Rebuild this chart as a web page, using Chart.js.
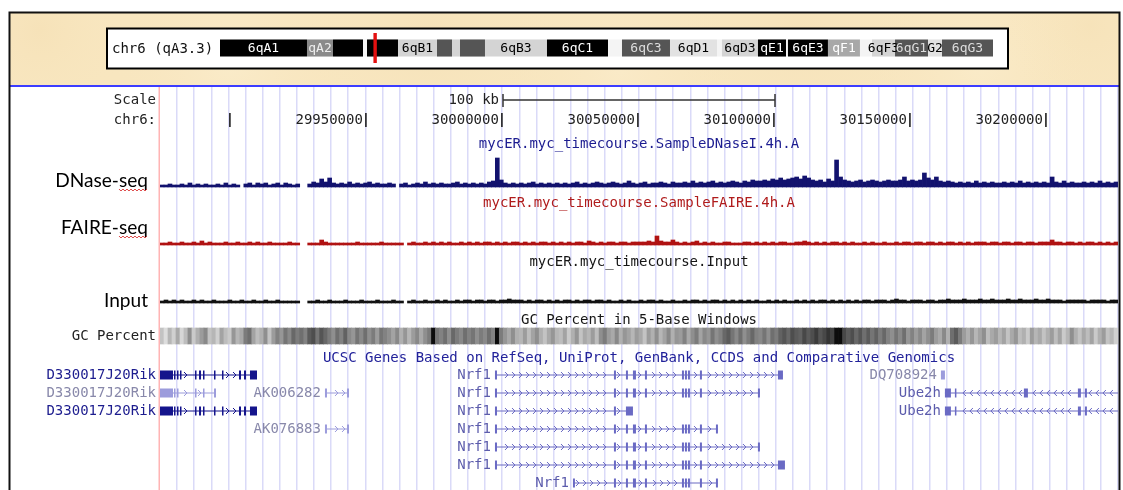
<!DOCTYPE html>
<html>
<head>
<meta charset="utf-8">
<script src="https://cdn.jsdelivr.net/npm/chart.js@4.4.1/dist/chart.umd.min.js"></script>
<style>
  html, body { margin: 0; padding: 0; background: #fff; }
  #wrap { position: relative; width: 1123px; height: 490px; overflow: hidden; }
  #browser { position: absolute; left: 0; top: 0; }
  #ideo { position: absolute; left: 220px; top: 33px; pointer-events: none; }
</style>
</head>
<body>
<div id="wrap">
  <canvas id="browser" width="1123" height="490"></canvas>
  <canvas id="ideo" width="773" height="30"></canvas>
</div>
<script>
// ---- view window (mouse chr6) ----
const chromName = 'chr6';
const chromBandHere = 'qA3.3';
const chromLenMb = 149.74;
const viewStart = 29874300;
const viewEnd = 30226500;
const rulerTicks = [29900000, 29950000, 30000000, 30050000, 30100000, 30150000, 30200000];
const scaleBarBp = 100000;

// ---- signal tracks, one value per window of (viewEnd - viewStart) / 240 bp; null = no data ----
const dnaseSignal = [
  2,2,3,2,2,3,2,4,2,3,  2,3,2,2,3,2,4,2,3,2,  null,3,4,2,4,3,4,2,3,4,  2,4,3,2,3,null,null,3,5,4,
  8,5,9,4,3,4,3,5,3,4,  3,4,5,3,4,3,3,4,3,null,  3,4,2,3,4,3,5,3,4,3,  4,3,3,4,5,3,4,3,4,3,
  4,3,5,6,29,7,4,3,4,3,  4,3,4,5,3,4,3,4,3,4,  3,4,3,4,5,3,4,3,4,5,  4,3,4,5,4,3,4,6,4,3,
  4,5,3,4,4,5,4,3,5,4,  4,5,4,6,4,5,4,5,6,4,  5,4,5,6,5,4,6,5,7,6,  6,7,6,8,7,9,7,8,9,10,
  8,11,9,7,6,7,5,8,6,27,  10,7,6,5,6,7,5,6,7,6,  5,6,7,6,6,7,10,6,7,6,  7,14,9,7,10,6,5,6,5,4,
  5,4,5,4,6,4,5,4,5,4,  4,5,4,5,4,6,4,5,4,5,  4,5,4,10,5,4,6,4,5,4,  4,5,4,5,4,6,4,5,4,5
];
const faireSignal = [
  2,2,3,2,2,3,2,2,3,2,  4,2,3,2,2,2,3,2,2,3,  2,2,3,2,3,2,2,3,2,2,  2,2,3,2,2,null,null,2,2,2,
  5,3,2,2,2,2,2,2,2,3,  2,2,2,2,2,3,2,2,2,2,  2,null,2,3,2,2,3,2,3,2,  3,2,3,2,2,3,2,3,2,3,
  2,3,3,2,3,2,3,2,3,3,  2,3,2,3,2,3,3,2,3,2,  3,2,3,2,3,3,2,4,3,2,  3,2,3,3,2,3,3,2,3,3,
  3,3,4,3,9,4,3,3,5,3,  2,3,2,3,4,2,3,2,3,2,  2,3,3,2,2,2,3,3,2,3,  2,3,2,3,2,3,3,2,2,3,
  3,4,3,2,3,2,3,2,3,3,  2,3,2,3,2,2,3,2,3,2,  2,3,2,2,3,2,3,3,2,3,  3,2,3,3,2,3,2,3,3,2,
  3,2,3,2,3,3,3,2,3,3,  2,3,3,2,3,3,2,3,3,2,  3,3,3,5,3,3,2,3,3,2,  3,2,3,3,2,3,2,3,2,3
];
const inputSignal = [
  2,3,2,3,2,3,2,2,3,2,  3,2,2,3,2,2,2,3,2,2,  3,2,2,3,2,2,3,2,2,3,  2,2,2,2,2,null,null,2,2,3,
  2,2,3,2,2,2,3,2,2,2,  3,2,2,2,3,2,2,2,3,2,  2,null,2,3,2,2,3,2,2,3,  2,3,2,2,3,2,3,3,2,3,
  3,2,3,3,2,3,3,4,3,3,  3,2,3,2,3,3,2,3,2,3,  2,3,3,2,3,2,3,3,2,3,  3,2,3,2,2,3,2,3,2,2,
  3,2,3,3,2,3,2,2,3,2,  2,3,2,3,3,2,3,2,3,3,  2,3,2,3,2,3,2,3,2,3,  2,2,3,2,3,2,3,2,2,3,
  2,3,2,3,2,3,3,2,3,2,  3,2,3,2,3,2,3,3,2,3,  3,3,2,3,4,3,3,2,3,3,  3,2,3,3,2,3,3,4,3,3,
  3,4,3,3,3,4,3,3,4,3,  3,3,4,3,3,4,3,3,3,4,  3,3,4,3,3,3,2,3,3,3,  3,3,2,3,3,3,3,2,3,3
];
const gcPercent = [
  44,40,46,42,48,41,45,52,43,47,  50,53,44,46,42,49,45,43,51,46,  48,55,57,49,45,47,52,44,50,54,  51,56,53,58,55,57,54,60,62,56,
  61,58,55,52,57,54,59,53,51,56,  53,57,52,55,50,56,54,52,49,53,  47,51,46,50,53,48,52,55,72,56,  54,57,52,58,55,53,57,54,56,52,
  55,53,57,54,75,55,51,48,52,47,  46,50,45,49,52,47,44,48,51,46,  45,49,43,47,51,44,48,46,50,45,  52,55,50,48,53,47,51,49,46,50,
  48,44,50,47,52,46,49,53,47,51,  50,54,48,52,55,49,53,51,56,52,  54,58,60,56,53,57,52,55,58,54,  53,56,52,57,55,59,61,58,62,60,
  59,63,60,62,65,61,63,66,64,72,  75,63,60,62,58,61,57,60,56,59,  55,58,54,52,56,53,57,51,54,50,  53,49,52,55,50,48,53,47,57,60,
  55,50,47,51,46,49,52,45,48,50,  46,49,44,48,51,45,47,43,50,46,  48,44,47,50,45,49,43,46,52,47,  44,48,45,49,43,47,50,44,46,42
];

// ---- chr6 cytobands (Mb) ----
const bandNames  = ['6qA1','6qA2','6qA3.1','6qA3.2','6qA3.3','6qB1','6qB2.1','6qB2.2','6qB2.3','6qB3','6qC1','6qC2','6qC3',
                    '6qD1','6qD2','6qD3','6qE1','6qE2','6qE3','6qF1','6qF2','6qF3','6qG1','6qG2','6qG3'];
const bandLabels = ['6qA1','qA2','','','','6qB1','','','','6qB3','6qC1','','6qC3',
                    '6qD1','','6qD3','qE1','','6qE3','qF1','','6qF3','6qG1','G2','6qG3'];
const bandStarts = [0, 16.85, 21.89, 27.70, 28.48, 34.48, 42.03, 44.94, 46.49, 51.33, 63.34, 75.16, 77.87,
                    87.17, 96.27, 97.24, 104.21, 109.64, 110.02, 117.77, 123.97, 126.30, 130.76, 137.15, 139.86];
const bandEnds   = [16.85, 21.89, 27.70, 28.48, 34.48, 42.03, 44.94, 46.49, 51.33, 63.34, 75.16, 77.87, 87.17,
                    96.27, 97.24, 104.21, 109.64, 110.02, 117.77, 123.97, 126.30, 130.76, 137.15, 139.86, 149.74];
const bandStains = ['gpos100','gpos66','gpos100','gneg','gpos100','gpos33','gpos75','gpos33','gpos75','gpos33','gpos100','gneg','gpos75',
                    'gpos25','gneg','gpos33','gpos100','gneg','gpos100','gpos50','gneg','gpos33','gpos75','gpos25','gpos75'];

// ---- UCSC genes ----
const geneNames   = ['D330017J20Rik','D330017J20Rik','D330017J20Rik','AK006282','AK076883',
                     'Nrf1','Nrf1','Nrf1','Nrf1','Nrf1','Nrf1','Nrf1','DQ708924','Ube2h','Ube2h'];
const geneRows    = [0,1,2,1,3, 0,1,2,3,4,5,6, 0,1,2];
const geneStrands = ['+','+','+','+','+', '+','+','+','+','+','+','+', '+','-','-'];
const geneStatus  = ['reviewed','predicted','reviewed','predicted','predicted',
                     'validated','validated','validated','validated','validated','validated','validated',
                     'predicted','validated','validated'];
const geneStarts  = [29872000,29872000,29872000,29934950,29934950,
                     29997450,29997450,29997450,29997450,29997450,29997450,30026120,
                     30161400,30162870,30162870];
const geneEnds    = [29909960,29894890,29909960,29943780,29943780,
                     30103320,30094860,30048175,30079420,30094860,30104050,30079420,
                     30162870,30232000,30232000];
const rikExons = [[29872000,29879080],[29879450,29879810],[29880550,29880920],[29881650,29882020],
                  [29887170,29887530],[29888640,29889380],[29890110,29890480],[29894150,29894520],
                  [29897090,29897460],[29903340,29904080],[29905180,29905910],[29907380,29909960]];
const rikShortExons = [[29872000,29879080],[29879450,29879810],[29880550,29880920],
                       [29887170,29887530],[29890110,29890480],[29894150,29894890]];
const akExons = [[29934950,29935690],[29943040,29943780]];
const nrf1Exons = [[29997450,29998190],[30041190,30041925],[30045600,30046335],[30048175,30049280],
                   [30052590,30053320],[30066190,30066925],[30067290,30068025],[30068395,30069130],
                   [30072800,30073535]];
const ube2hExons = [[30162870,30165075],[30166540,30166910],[30191910,30193380],
                    [30211760,30212860],[30214330,30215070]];
const geneExons = [
  rikExons, rikShortExons, rikExons, akExons, akExons,
  nrf1Exons.concat([[30101480,30103320]]),
  nrf1Exons.concat([[30094120,30094860]]),
  [[29997450,29998190],[30041190,30041925],[30045600,30048175]],
  nrf1Exons.concat([[30078690,30079420]]),
  nrf1Exons.concat([[30094120,30094860]]),
  nrf1Exons.concat([[30101480,30104050]]),
  [[30026120,30026850]].concat(nrf1Exons.slice(1), [[30078690,30079420]]),
  [[30161400,30162870]],
  ube2hExons,
  ube2hExons.filter((e, i) => i !== 2)
];

// ---- layout of the browser image ----
const MONO = '"DejaVu Sans Mono", "Liberation Mono", monospace';
const TRACK = { dnaseBase: 187, faireBase: 245, inputBase: 303, gcTop: 328, gcBottom: 344, geneRow0: 375, geneRowStep: 18 };
const signalScale = 1;
const geneColors = { reviewed: '#14148c', validated: '#6a6ac4', predicted: '#9c9cdc' };
const geneLabelColors = { reviewed: '#1c1c8e', validated: '#5c5cac', predicted: '#8888aa' };
const stainColors = { gneg: '#f4f4f4', gpos25: '#e2e2e2', gpos33: '#d4d4d4', gpos50: '#a8a8a8', gpos66: '#8a8a8a', gpos75: '#555555', gpos100: '#000000' };
const stainText = { gneg: '#000', gpos25: '#000', gpos33: '#000', gpos50: '#fff', gpos66: '#eee', gpos75: '#ddd', gpos100: '#fff' };

const nBins = dnaseSignal.length;
const binBp = (viewEnd - viewStart) / nBins;
const binCenter = i => viewStart + (i + 0.5) * binBp;

function signalDataset(values, base, color) {
  const data = [];
  values.forEach((v, i) => {
    if (v !== null) data.push({ x: binCenter(i), y: [base, base - v * signalScale] });
  });
  return { data, backgroundColor: color, grouped: false, barPercentage: 1, categoryPercentage: 1, borderWidth: 0 };
}

function gcShade(v) {
  const g = Math.round(Math.max(12, Math.min(228, 208 - (v - 42) * 6.5)));
  return `rgb(${g},${g},${g})`;
}

const gcDataset = {
  data: gcPercent.map((v, i) => ({ x: binCenter(i), y: [TRACK.gcTop, TRACK.gcBottom] })),
  backgroundColor: gcPercent.map(gcShade),
  grouped: false, barPercentage: 1, categoryPercentage: 1, borderWidth: 0
};

function squiggle(ctx, x0, x1, y) {
  ctx.strokeStyle = 'rgba(215,40,40,0.85)';
  ctx.lineWidth = 1;
  ctx.beginPath();
  for (let x = x0, k = 0; x <= x1; x += 2, k++) {
    const yy = y + (k % 2 ? 1 : -1);
    if (k === 0) ctx.moveTo(x, yy); else ctx.lineTo(x, yy);
  }
  ctx.stroke();
}

// page background, frame and the header strip with the ideogram box
const framePlugin = {
  id: 'frame',
  beforeDraw(chart) {
    const ctx = chart.ctx;
    ctx.save();
    ctx.fillStyle = '#fff';
    ctx.fillRect(0, 0, chart.width, chart.height);
    // parchment header, a soft mottled beige
    ctx.fillStyle = '#f8e6bf';
    ctx.fillRect(10, 13, 1109, 73);
    ctx.beginPath();
    ctx.rect(10, 13, 1109, 73);
    ctx.clip();
    const blots = [[40, 30, 90, 'rgba(244,222,178,0.5)'], [230, 60, 120, 'rgba(253,242,214,0.45)'],
                   [430, 35, 130, 'rgba(242,220,176,0.35)'], [620, 70, 120, 'rgba(253,240,212,0.4)'],
                   [800, 30, 130, 'rgba(243,221,177,0.35)'], [980, 65, 120, 'rgba(253,242,214,0.4)'],
                   [1090, 25, 90, 'rgba(244,222,178,0.4)']];
    blots.forEach(([x, y, r, c]) => {
      const g = ctx.createRadialGradient(x, y, 0, x, y, r);
      g.addColorStop(0, c);
      g.addColorStop(1, 'rgba(248,230,191,0)');
      ctx.fillStyle = g;
      ctx.fillRect(10, 13, 1109, 73);
    });
    ctx.restore();
    ctx.save();
    // ideogram box
    ctx.fillStyle = '#fff';
    ctx.fillRect(107, 28, 901, 40);
    ctx.strokeStyle = '#000';
    ctx.lineWidth = 2;
    ctx.strokeRect(107, 28.5, 901, 40);
    ctx.fillStyle = '#111';
    ctx.font = '14px ' + MONO;
    ctx.textBaseline = 'middle';
    ctx.textAlign = 'left';
    ctx.fillText(`${chromName} (${chromBandHere})`, 112, 49);
    ctx.restore();
  },
  afterDraw(chart) {
    const ctx = chart.ctx, xs = chart.scales.x, area = chart.chartArea;
    const cx = (area.left + area.right) / 2;
    ctx.save();
    // left edge of the data area
    ctx.fillStyle = '#ffb4b4';
    ctx.fillRect(area.left - 1.5, area.top + 1, 1.5, area.bottom - area.top);
    // header separator and outer frame
    ctx.fillStyle = '#3c3cff';
    ctx.fillRect(10, 85, 1109, 2);
    ctx.strokeStyle = '#111';
    ctx.lineWidth = 2;
    ctx.strokeRect(9.5, 12.5, 1110, 500);

    ctx.font = '14px ' + MONO;
    ctx.textBaseline = 'middle';
    ctx.fillStyle = '#222';
    ctx.textAlign = 'right';
    ctx.fillText('Scale', 156, 100);
    ctx.fillText(chromName + ':', 156, 120);

    // scale bar, centred on the view
    const mid = (viewStart + viewEnd) / 2;
    const s0 = xs.getPixelForValue(mid - scaleBarBp / 2);
    const s1 = xs.getPixelForValue(mid + scaleBarBp / 2);
    ctx.fillText((scaleBarBp / 1000) + ' kb', s0 - 4, 100);
    ctx.strokeStyle = '#333';
    ctx.lineWidth = 1.5;
    ctx.beginPath();
    ctx.moveTo(s0, 100); ctx.lineTo(s1, 100);
    ctx.moveTo(s0, 94); ctx.lineTo(s0, 107);
    ctx.moveTo(s1, 94); ctx.lineTo(s1, 107);
    ctx.stroke();

    // base-position ruler
    ctx.strokeStyle = '#111';
    rulerTicks.forEach(t => {
      const px = xs.getPixelForValue(t);
      ctx.beginPath();
      ctx.moveTo(px, 113); ctx.lineTo(px, 127);
      ctx.stroke();
      const label = String(t);
      if (px - 3 - ctx.measureText(label).width > area.left) ctx.fillText(label, px - 3, 120);
    });

    // track titles
    ctx.textAlign = 'center';
    const titles = [['mycER.myc_timecourse.SampleDNaseI.4h.A', 144, '#1c1c90'],
                    ['mycER.myc_timecourse.SampleFAIRE.4h.A', 203, '#b01c1c'],
                    ['mycER.myc_timecourse.Input', 262, '#151515'],
                    ['GC Percent in 5-Base Windows', 320, '#151515'],
                    ['UCSC Genes Based on RefSeq, UniProt, GenBank, CCDS and Comparative Genomics', 358, '#22229a']];
    titles.forEach(([t, y, c]) => { ctx.fillStyle = c; ctx.fillText(t, cx, y); });
    ctx.textAlign = 'right';
    ctx.fillStyle = '#222';
    ctx.fillText('GC Percent', 156, 336);

    // hand-added track names
    ctx.font = '100px Lato';
    const size = 100 * 93 / ctx.measureText('DNase-seq').width;
    ctx.font = size.toFixed(1) + 'px Lato';
    ctx.fillStyle = '#000';
    const seqW = ctx.measureText('seq').width;
    [['DNase-seq', 181], ['FAIRE-seq', 228], ['Input', 301]].forEach(([t, y]) => {
      ctx.fillText(t, 148, y);
      if (t.endsWith('-seq')) squiggle(ctx, 148 - seqW, 148, y + 9);
    });

    // gene models
    ctx.font = '14px ' + MONO;
    geneNames.forEach((name, i) => {
      const y = TRACK.geneRow0 + geneRows[i] * TRACK.geneRowStep;
      const col = geneColors[geneStatus[i]];
      const a = xs.getPixelForValue(Math.max(geneStarts[i], viewStart));
      const b = xs.getPixelForValue(Math.min(geneEnds[i], viewEnd));
      const ex = geneExons[i].map(([s, e]) => [xs.getPixelForValue(Math.max(s, viewStart)),
                                                xs.getPixelForValue(Math.min(e, viewEnd))]);
      ctx.fillStyle = col;
      ctx.strokeStyle = col;
      ctx.fillRect(a, y - 0.5, b - a, 1);
      ctx.lineWidth = 1;
      const d = geneStrands[i] === '+' ? 1 : -1;
      for (let x = a + 5; x < b - 3; x += 7) {
        if (ex.some(([s, e]) => x > s - 3 && x < e + 3)) continue;
        ctx.beginPath();
        ctx.moveTo(x - 2 * d, y - 3); ctx.lineTo(x + d, y); ctx.lineTo(x - 2 * d, y + 3);
        ctx.stroke();
      }
      ex.forEach(([s, e]) => ctx.fillRect(s, y - 4.5, Math.max(e - s, 1.5), 9));
      ctx.fillStyle = geneLabelColors[geneStatus[i]];
      ctx.textAlign = 'right';
      ctx.fillText(name, a - 4, y);
    });
    ctx.restore();
  }
};

new Chart(document.getElementById('browser'), {
  type: 'bar',
  data: {
    datasets: [
      signalDataset(dnaseSignal, TRACK.dnaseBase, '#12126e'),
      signalDataset(faireSignal, TRACK.faireBase, '#b01212'),
      signalDataset(inputSignal, TRACK.inputBase, '#111111'),
      gcDataset
    ]
  },
  options: {
    responsive: false,
    animation: false,
    devicePixelRatio: 1,
    layout: { padding: { left: 160, right: 5, top: 86, bottom: 0 } },
    plugins: { legend: { display: false }, tooltip: { enabled: false } },
    scales: {
      x: {
        type: 'linear', min: viewStart, max: viewEnd, offset: false,
        ticks: { display: false, stepSize: 6250, includeBounds: false, autoSkip: false },
        grid: {
          offset: false, drawTicks: false, lineWidth: 1.5,
          color: c => (c.tick && c.tick.value - viewStart < 3000) ? 'rgba(0,0,0,0)' : '#dadaf8'
        },
        border: { display: false }
      },
      y: { type: 'linear', min: 86, max: 490, reverse: true, display: false }
    }
  },
  plugins: [framePlugin]
});

// chromosome ideogram with the current-position marker
const bandLabelPlugin = {
  id: 'bandLabels',
  afterDatasetsDraw(chart) {
    const ctx = chart.ctx, xs = chart.scales.x, area = chart.chartArea;
    const y = (area.top + area.bottom) / 2;
    ctx.save();
    ctx.font = '13px ' + MONO;
    ctx.textAlign = 'center';
    ctx.textBaseline = 'middle';
    bandLabels.forEach((t, i) => {
      if (!t) return;
      ctx.fillStyle = stainText[bandStains[i]];
      ctx.fillText(t, (xs.getPixelForValue(bandStarts[i]) + xs.getPixelForValue(bandEnds[i])) / 2, y + 1);
    });
    ctx.restore();
  }
};

new Chart(document.getElementById('ideo'), {
  type: 'bar',
  data: {
    labels: [chromName],
    datasets: [
      {
        data: [{ x: [viewStart / 1e6, viewEnd / 1e6], y: chromName }],
        backgroundColor: '#e41010', borderColor: '#e41010', borderWidth: 0,
        inflateAmount: 0.8, barPercentage: 1, categoryPercentage: 1, grouped: false, order: 0
      },
      {
        data: bandStarts.map((s, i) => ({ x: [s, bandEnds[i]], y: chromName })),
        backgroundColor: bandStains.map(s => stainColors[s]),
        borderWidth: 0, barPercentage: 0.57, categoryPercentage: 1, grouped: false, order: 1
      }
    ]
  },
  options: {
    indexAxis: 'y',
    responsive: false,
    animation: false,
    devicePixelRatio: 1,
    layout: { padding: 0 },
    plugins: { legend: { display: false }, tooltip: { enabled: false } },
    scales: {
      x: { type: 'linear', min: 0, max: chromLenMb, display: false, offset: false },
      y: { type: 'category', display: false }
    }
  },
  plugins: [bandLabelPlugin]
});
</script>
</body>
</html>
